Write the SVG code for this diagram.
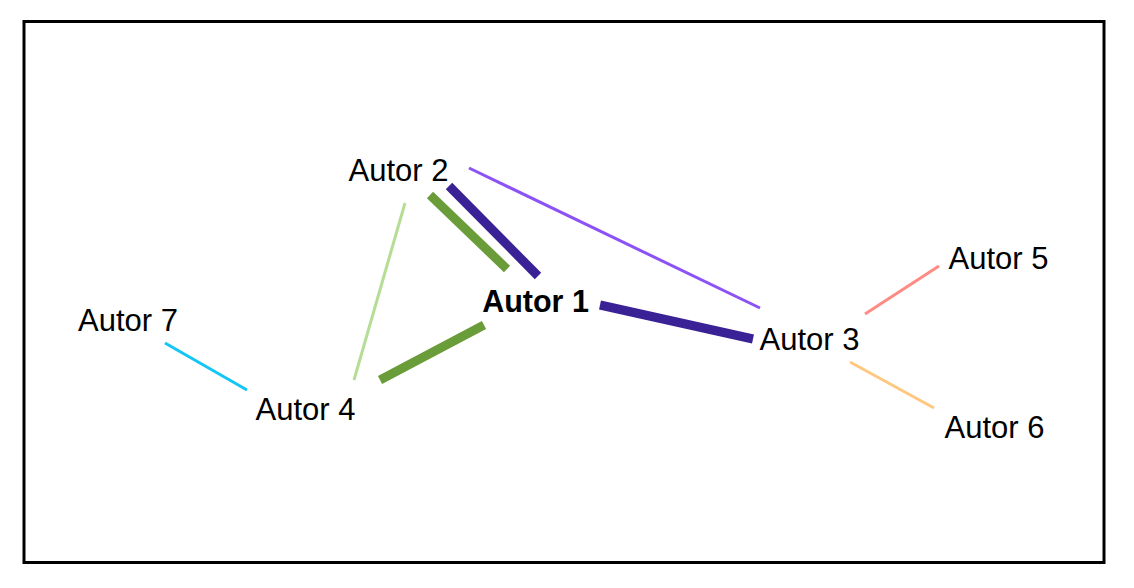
<svg xmlns="http://www.w3.org/2000/svg" width="1134" height="588" viewBox="0 0 1134 588">
<style>
.lbl{font-family:"Liberation Sans",Arial,sans-serif;font-size:31px;fill:#000;text-anchor:middle}
.b{font-weight:bold;font-size:30.5px}
line{stroke-linecap:butt}
.thick{stroke-width:9}
.thin{stroke-width:3}
</style>
<rect x="0" y="0" width="1134" height="588" fill="#fff"/>
<rect x="24" y="21.5" width="1080" height="541" fill="none" stroke="#000" stroke-width="3"/>
<g id="connectors">
<line class="thin" x1="405" y1="203" x2="354" y2="380" stroke="#b5dd95"/>
<line class="thin" x1="469" y1="168" x2="760" y2="308" stroke="#8c52f5"/>
<line class="thick" x1="449" y1="186" x2="538" y2="276" stroke="#3a2196"/>
<line class="thick" x1="430" y1="195" x2="507" y2="269" stroke="#6a9c3a"/>
<line class="thick" x1="484" y1="325" x2="380" y2="380" stroke="#6a9c3a"/>
<line class="thick" x1="600" y1="305" x2="753" y2="339" stroke="#3a2196"/>
<line class="thin" x1="865" y1="314" x2="939" y2="266" stroke="#ff8c84"/>
<line class="thin" x1="850" y1="362" x2="934" y2="408" stroke="#ffc880"/>
<line class="thin" x1="165" y1="343" x2="247" y2="390" stroke="#13c6f5"/>
</g>
<g id="autor1"><text class="lbl b" x="535.5" y="311.5">Autor 1</text></g>
<g id="autor2"><text class="lbl" x="398.5" y="180.5">Autor 2</text></g>
<g id="autor3"><text class="lbl" x="809.5" y="349.5">Autor 3</text></g>
<g id="autor4"><text class="lbl" x="305.5" y="419.5">Autor 4</text></g>
<g id="autor5"><text class="lbl" x="998.5" y="268.5">Autor 5</text></g>
<g id="autor6"><text class="lbl" x="994.5" y="437.5">Autor 6</text></g>
<g id="autor7"><text class="lbl" x="128" y="330.5">Autor 7</text></g>
</svg>
